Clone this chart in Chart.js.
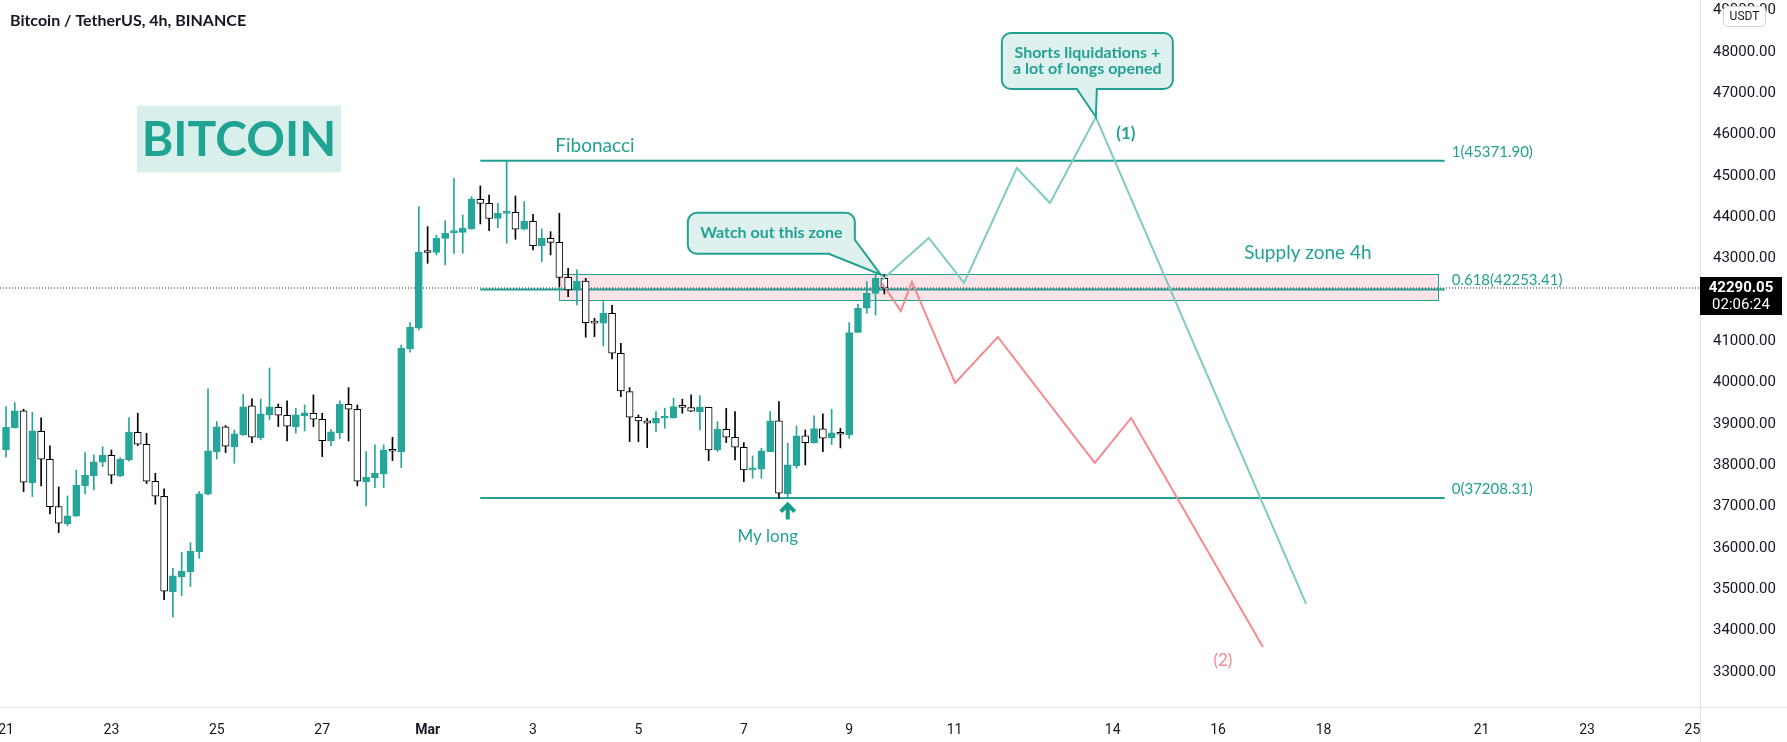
<!DOCTYPE html>
<html>
<head>
<meta charset="utf-8">
<script src="https://cdn.jsdelivr.net/npm/chart.js@4.4.1/dist/chart.umd.min.js"></script>
<style>
  html, body { margin: 0; padding: 0; background: #ffffff; }
  #wrap { width: 1787px; height: 742px; }
</style>
</head>
<body>
<div id="wrap"><canvas id="chart" width="1787" height="742"></canvas></div>
<script>
// BTC/USDT 4h candles, first one opens Feb 21 00:00, six per day
var opens = [38371, 38912, 39315, 37581, 38823, 38146, 37000, 36581, 36767, 37508,
  37750, 38073, 38242, 37750, 38138, 38799, 38508, 37613, 37250, 34944,
  35307, 35428, 35912, 37299, 38331, 38928, 38452, 38734, 39436, 38670,
  39226, 39404, 39210, 38936, 39202, 39258, 39113, 38597, 38791, 39476,
  39355, 37605, 37702, 37791, 38350, 38331, 40815, 41315, 43160, 43154,
  43493, 43630, 43638, 43719, 44436, 44340, 43977, 44098, 44122, 43711,
  43904, 43315, 43493, 43396, 42549, 42243, 42460, 41460, 41436, 41678,
  40710, 39783, 39162, 39073, 39017, 39138, 39154, 39420, 39396, 39299,
  39404, 38371, 38872, 38678, 38436, 37888, 37904, 38331, 39073, 37307,
  37993, 38710, 38549, 38880, 38654, 38770, 38734, 41218, 41799, 42162,
  42525];
var highs = [39420, 39517, 39355, 39283, 39146, 38468, 37476, 37258, 37887, 38307,
  38250, 38452, 38371, 38186, 39154, 39259, 38775, 37807, 37428, 35508,
  35895, 36129, 37363, 39847, 39057, 38960, 38855, 39718, 39605, 39605,
  40355, 39484, 39557, 39379, 39460, 39702, 39258, 38871, 39557, 39880,
  39460, 38331, 38492, 38492, 38678, 40912, 41452, 44259, 43775, 43573,
  43920, 44945, 44057, 44501, 44759, 44541, 44340, 45360, 44517, 44380,
  44073, 43719, 43654, 44098, 42767, 42727, 42525, 41557, 41960, 41872,
  40952, 39880, 39218, 39138, 39299, 39380, 39622, 39597, 39702, 39686,
  39404, 39057, 39380, 39299, 38549, 38226, 38412, 39299, 39541, 38533,
  38952, 38855, 39194, 39242, 39355, 38895, 41452, 41903, 42444, 42605,
  42605];
var lows = [38194, 38900, 37363, 37242, 37500, 36823, 36371, 36541, 36760, 37307,
  37404, 37968, 37557, 37726, 38097, 38476, 37557, 37057, 34750, 34323,
  34839, 35065, 35750, 37283, 38154, 38307, 38049, 38720, 38549, 38613,
  39097, 38936, 38589, 38775, 38831, 38936, 38210, 38476, 38646, 38589,
  37500, 37016, 37460, 37460, 38113, 37944, 40735, 41275, 42888, 43090,
  42848, 43130, 43130, 43710, 43840, 43678, 43751, 43372, 43469, 43694,
  43211, 42928, 43090, 42323, 42081, 41880, 41098, 41114, 40888, 40573,
  39662, 38573, 38573, 38428, 38815, 38896, 39138, 39259, 39300, 38855,
  38113, 38331, 38549, 38130, 37605, 37686, 37686, 38331, 37200, 37243,
  37928, 38009, 38533, 38331, 38500, 38420, 38653, 41210, 41678, 41637,
  42145];
var closes = [38920, 39315, 37589, 38831, 38146, 37000, 36597, 36775, 37516, 37758,
  38081, 38242, 37758, 38146, 38799, 38508, 37613, 37250, 34952, 35323,
  35436, 35920, 37307, 38347, 38928, 38460, 38758, 39412, 38678, 39242,
  39412, 39210, 38944, 39218, 39267, 39113, 38597, 38807, 39476, 39355,
  37613, 37710, 37807, 38371, 38340, 40832, 41339, 43154, 43150, 43493,
  43614, 43660, 43735, 44444, 44340, 43977, 44098, 44122, 43711, 43904,
  43315, 43493, 43396, 42549, 42243, 42460, 41452, 41440, 41678, 40710,
  39799, 39162, 39073, 39017, 39138, 39162, 39420, 39400, 39307, 39404,
  38371, 38872, 38678, 38436, 37888, 37912, 38347, 39073, 37323, 38009,
  38710, 38549, 38888, 38654, 38783, 38750, 41210, 41799, 42162, 42525,
  42290.05];

// x axis: days after Feb 21 00:00
var tickDays = [0, 2, 4, 6, 8, 10, 12, 14, 16, 18, 21, 23, 25, 28, 30, 32];
var tickLabels = ["21", "23", "25", "27", "Mar", "3", "5", "7", "9", "11", "14", "16", "18", "21", "23", "25"];
var priceTicks = [33000, 34000, 35000, 36000, 37000, 38000, 39000, 40000, 41000,
  42000, 43000, 44000, 45000, 46000, 47000, 48000, 49000];

// fibonacci retracement drawing
var fibRatios = ["1", "0.618", "0"];
var fibLevels = [45371.90, 42253.41, 37208.31];
var fibDays = [9.0, 27.3];

// supply zone 4h
var zonePrices = [42622, 41984];
var zoneDays = [10.5, 27.17];

// projected paths
var greenDays = [16.62, 17.51, 18.18, 19.18, 19.81, 20.68, 24.67];
var greenPrices = [42484, 43501, 42412, 45194, 44347, 46428, 34645];
var redDays = [16.62, 16.98, 17.19, 18.01, 18.82, 20.66, 21.35, 23.85];
var redPrices = [42412, 41734, 42436, 39992, 41105, 38057, 39146, 33605];

var xMin = -0.114, xMax = 32.144;
var yMin = 32150, yMax = 49260;

var upColor = "#26a69a";
var downColor = "#000000";
var tealText = "#22a192";
var fibColor = "#22a192";
var FONT = "Lato, 'Open Sans', sans-serif";

var lastPrice = closes[closes.length - 1];

var wickData = opens.map(function (o, i) {
  return { x: i / 6, y: [lows[i], highs[i]] };
});
var bodyData = opens.map(function (o, i) {
  return { x: i / 6, y: [opens[i], closes[i]] };
});

function isUp(i) {
  return closes[i] >= opens[i];
}

function toPoints(days, prices) {
  return days.map(function (d, i) {
    return { x: d, y: prices[i] };
  });
}

function calloutPath(ctx, l, t, r, b, rad, tail) {
  ctx.beginPath();
  ctx.moveTo(l + rad, t);
  ctx.lineTo(r - rad, t);
  ctx.arcTo(r, t, r, t + rad, rad);
  if (tail.onRight) {
    ctx.lineTo(r, tail.a[1]);
  } else {
    ctx.lineTo(r, b - rad);
    ctx.arcTo(r, b, r - rad, b, rad);
    ctx.lineTo(tail.a[0], b);
  }
  ctx.lineTo(tail.tip[0], tail.tip[1]);
  ctx.lineTo(tail.c[0], b);
  ctx.lineTo(l + rad, b);
  ctx.arcTo(l, b, l, b - rad, rad);
  ctx.lineTo(l, t + rad);
  ctx.arcTo(l, t, l + rad, t, rad);
  ctx.closePath();
}

var drawings = {
  id: "drawings",
  beforeDatasetsDraw: function (chart) {
    var ctx = chart.ctx;
    var x = chart.scales.x, y = chart.scales.y;
    var l = x.getPixelForValue(zoneDays[0]);
    var r = x.getPixelForValue(zoneDays[1]);
    var t = y.getPixelForValue(zonePrices[0]);
    var b = y.getPixelForValue(zonePrices[1]);
    ctx.save();
    ctx.fillStyle = "#fce3e7";
    ctx.fillRect(l, t, r - l, b - t);
    ctx.strokeStyle = fibColor;
    ctx.lineWidth = 1;
    ctx.strokeRect(Math.round(l) + 0.5, Math.round(t) + 0.5, Math.round(r - l), Math.round(b - t));
    ctx.restore();
  },
  afterDatasetsDraw: function (chart) {
    var ctx = chart.ctx;
    var x = chart.scales.x, y = chart.scales.y;
    ctx.save();
    ctx.textBaseline = "middle";

    // BITCOIN badge
    var bx = x.getPixelForValue(4.42), by = y.getPixelForValue(45908);
    ctx.fillStyle = "#d8efec";
    ctx.fillRect(bx - 102, by - 33, 204, 67);
    ctx.fillStyle = "#1fa392";
    ctx.font = "bold 48px " + FONT;
    ctx.textAlign = "center";
    ctx.fillText("BITCOIN", bx, by + 2);

    // fib labels
    var fx0 = x.getPixelForValue(fibDays[0]);
    var fx1 = x.getPixelForValue(fibDays[1]);
    ctx.textAlign = "left";
    ctx.fillStyle = tealText;
    ctx.font = "19px " + FONT;
    ctx.fillText("Fibonacci", fx0 + 75, y.getPixelForValue(fibLevels[0]) - 15);
    ctx.font = "15px " + FONT;
    fibLevels.forEach(function (lv, i) {
      ctx.fillText(fibRatios[i] + "(" + lv.toFixed(2) + ")", fx1 + 7, y.getPixelForValue(lv) - 9);
    });

    // supply zone label
    ctx.textAlign = "center";
    ctx.font = "19px " + FONT;
    ctx.fillText("Supply zone 4h", x.getPixelForValue(zoneDays[1]) - 130, y.getPixelForValue(zonePrices[0]) - 21);

    // watch out callout
    var tx = x.getPixelForValue(16.6), ty = y.getPixelForValue(42610);
    var l = tx - 193, r = tx - 26, t = ty - 62, b = ty - 21;
    calloutPath(ctx, l, t, r, b, 9, { onRight: true, a: [r, b - 14], tip: [tx, ty], c: [r - 26, b] });
    ctx.fillStyle = "#dff1ee";
    ctx.fill();
    ctx.strokeStyle = fibColor;
    ctx.lineWidth = 2;
    ctx.stroke();
    ctx.fillStyle = tealText;
    ctx.font = "bold 16px " + FONT;
    ctx.fillText("Watch out this zone", (l + r) / 2, (t + b) / 2);

    // shorts liquidations callout
    var sx = x.getPixelForValue(greenDays[5]), sy = y.getPixelForValue(greenPrices[5]);
    l = sx - 94; r = sx + 77; t = sy - 84; b = sy - 28;
    calloutPath(ctx, l, t, r, b, 9, { onRight: false, a: [sx + 1, b], tip: [sx, sy], c: [sx - 19, b] });
    ctx.fillStyle = "#dff1ee";
    ctx.fill();
    ctx.stroke();
    ctx.fillStyle = tealText;
    ctx.font = "bold 16px " + FONT;
    ctx.fillText("Shorts liquidations +", (l + r) / 2, t + 20);
    ctx.fillText("a lot of longs opened", (l + r) / 2, t + 36);

    // wave labels
    ctx.font = "bold 17px " + FONT;
    ctx.fillText("(1)", sx + 30, sy + 16);
    var ex = x.getPixelForValue(redDays[redDays.length - 1]);
    var ey = y.getPixelForValue(redPrices[redPrices.length - 1]);
    ctx.fillStyle = "#f28890";
    ctx.font = "17px " + FONT;
    ctx.fillText("(2)", ex - 40, ey + 14);

    // my long arrow
    var ax = x.getPixelForValue(89 / 6), ay = y.getPixelForValue(lows[89]) + 6;
    ctx.strokeStyle = "#179c89";
    ctx.lineWidth = 4;
    ctx.lineCap = "butt";
    ctx.lineJoin = "miter";
    ctx.beginPath();
    ctx.moveTo(ax - 7, ay + 9);
    ctx.lineTo(ax, ay + 2);
    ctx.lineTo(ax + 7, ay + 9);
    ctx.moveTo(ax, ay + 3);
    ctx.lineTo(ax, ay + 17);
    ctx.stroke();
    ctx.fillStyle = tealText;
    ctx.font = "17px " + FONT;
    ctx.fillText("My long", ax - 20, ay + 34);
    ctx.restore();
  },
  afterDraw: function (chart) {
    var ctx = chart.ctx;
    var area = chart.chartArea;
    var y = chart.scales.y;
    ctx.save();
    // axis borders
    ctx.strokeStyle = "#e0e3eb";
    ctx.lineWidth = 1;
    ctx.beginPath();
    ctx.moveTo(area.right + 0.5, 0);
    ctx.lineTo(area.right + 0.5, chart.height);
    ctx.moveTo(0, area.bottom + 0.5);
    ctx.lineTo(chart.width, area.bottom + 0.5);
    ctx.stroke();

    // last price tag
    var py = y.getPixelForValue(lastPrice);
    ctx.fillStyle = "#000000";
    ctx.fillRect(area.right, py - 11, 82, 38);
    ctx.fillStyle = "#ffffff";
    ctx.textAlign = "center";
    ctx.textBaseline = "middle";
    ctx.font = "bold 15px Roboto, sans-serif";
    ctx.fillText(lastPrice.toFixed(2), area.right + 41, py);
    ctx.font = "15px Roboto, sans-serif";
    ctx.fillText("02:06:24", area.right + 41, py + 17);

    // currency badge
    ctx.beginPath();
    ctx.roundRect(area.right + 23.5, 6.5, 42, 20, 4);
    ctx.fillStyle = "#ffffff";
    ctx.fill();
    ctx.strokeStyle = "#d1d4dc";
    ctx.stroke();
    ctx.fillStyle = "#131722";
    ctx.font = "12px Roboto, sans-serif";
    ctx.fillText("USDT", area.right + 44.5, 17);

    // title
    ctx.textAlign = "left";
    ctx.font = "bold 16px " + FONT;
    ctx.fillText("Bitcoin / TetherUS, 4h, BINANCE", 10, 21);
    ctx.restore();
  }
};

var chart = new Chart(document.getElementById("chart"), {
  type: "bar",
  data: {
    datasets: [
      {
        type: "line",
        data: toPoints(fibDays, [fibLevels[0], fibLevels[0]]),
        borderColor: fibColor,
        borderWidth: 2,
        pointRadius: 0,
        order: 9,
      },
      {
        type: "line",
        data: toPoints(fibDays, [fibLevels[1], fibLevels[1]]),
        borderColor: fibColor,
        borderWidth: 2,
        pointRadius: 0,
        order: 9,
      },
      {
        type: "line",
        data: toPoints(fibDays, [fibLevels[2], fibLevels[2]]),
        borderColor: fibColor,
        borderWidth: 2,
        pointRadius: 0,
        order: 9,
      },
      {
        type: "line",
        data: toPoints([xMin, xMax], [lastPrice, lastPrice]),
        borderColor: "#131722",
        borderWidth: 1,
        borderDash: [1, 2],
        pointRadius: 0,
        order: 8,
      },
      {
        type: "bar",
        data: wickData,
        barThickness: 1,
        grouped: false,
        borderWidth: 0,
        backgroundColor: function (c) {
          return isUp(c.dataIndex) ? upColor : downColor;
        },
        order: 5,
      },
      {
        type: "bar",
        data: bodyData,
        barThickness: 7,
        grouped: false,
        minBarLength: 2,
        borderWidth: 1,
        borderSkipped: false,
        backgroundColor: function (c) {
          return isUp(c.dataIndex) ? upColor : "#ffffff";
        },
        borderColor: function (c) {
          return isUp(c.dataIndex) ? upColor : downColor;
        },
        order: 4,
      },
      {
        type: "line",
        data: toPoints(greenDays, greenPrices),
        borderColor: "#7fcbc1",
        borderWidth: 2,
        pointRadius: 0,
        order: 2,
      },
      {
        type: "line",
        data: toPoints(redDays, redPrices),
        borderColor: "#f4898f",
        borderWidth: 2,
        pointRadius: 0,
        order: 2,
      },
    ],
  },
  options: {
    responsive: false,
    animation: false,
    devicePixelRatio: 1,
    layout: { padding: 0 },
    plugins: {
      legend: { display: false },
      tooltip: { enabled: false },
    },
    scales: {
      x: {
        type: "linear",
        min: xMin,
        max: xMax,
        offset: false,
        grid: { display: false },
        border: { display: false },
        afterBuildTicks: function (s) {
          s.ticks = tickDays.map(function (d) { return { value: d }; });
        },
        afterFit: function (s) {
          s.height = 35;
          s.paddingLeft = 0;
          s.paddingRight = 0;
        },
        ticks: {
          autoSkip: false,
          maxRotation: 0,
          padding: 7,
          color: "#131722",
          font: function (c) {
            var bold = c.tick && c.tick.value === 8;
            return { family: "Roboto, sans-serif", size: 14, weight: bold ? "bold" : "normal" };
          },
          callback: function (v, i) {
            return tickLabels[i];
          },
        },
      },
      y: {
        type: "linear",
        position: "right",
        min: yMin,
        max: yMax,
        beginAtZero: false,
        grid: { display: false, drawTicks: false },
        border: { display: false },
        afterBuildTicks: function (s) {
          s.ticks = priceTicks.map(function (p) { return { value: p }; });
        },
        afterFit: function (s) {
          s.width = 87;
          s.paddingTop = 0;
          s.paddingBottom = 0;
        },
        ticks: {
          padding: 13,
          color: "#131722",
          font: { family: "Roboto, sans-serif", size: 15 },
          callback: function (v) {
            return Number(v).toFixed(2);
          },
        },
      },
    },
  },
  plugins: [drawings],
});
</script>
</body>
</html>
